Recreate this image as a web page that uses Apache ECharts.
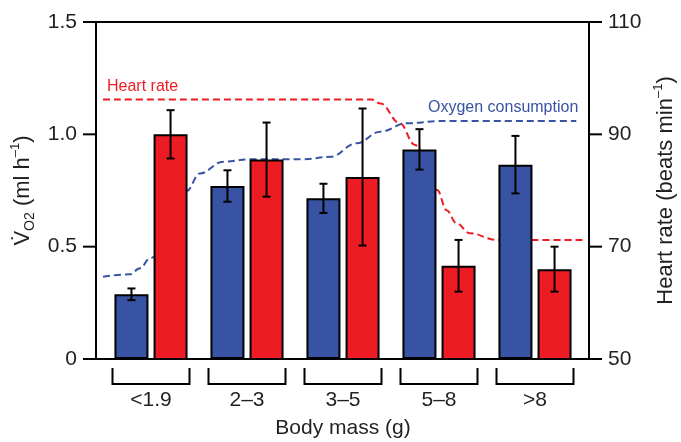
<!DOCTYPE html>
<html><head><meta charset="utf-8">
<script src="https://cdn.jsdelivr.net/npm/echarts@6/dist/echarts.min.js"></script>
<style>html,body{margin:0;padding:0;background:#fff}#c{width:681px;height:442px}</style>
</head><body><div id="c"></div>
<script>
// ---- data ----
const categories = ['<1.9', '2–3', '3–5', '5–8', '>8'];
const o2Values = [0.288, 0.770, 0.715, 0.933, 0.865];
const o2Errors = [0.026, 0.070, 0.065, 0.090, 0.128];
const hrValues = [90.0, 85.5, 82.4, 66.6, 66.0];
const hrErrors = [4.3, 6.6, 12.2, 4.6, 4.0];
const o2TickLabels = [0, 0.5, 1.0, 1.5];
const hrTickLabels = [50, 70, 90, 110];
// schematic curves: [position along mass classes (0..5), value]
const hrCurve = [[0, 96.2], [2.80, 96.2], [2.89, 95.5], [3.09, 92.0], [3.25, 88.1], [3.48, 80.1],
  [3.58, 76.5], [3.68, 74.2], [3.82, 72.4], [4.10, 71.2], [5.0, 71.2]];
const o2Curve = [[0, 0.366], [0.28, 0.377], [0.385, 0.404], [0.49, 0.448], [0.87, 0.748], [1.01, 0.826],
  [1.25, 0.878], [1.53, 0.889], [2.09, 0.889], [2.37, 0.900], [2.64, 0.960], [2.89, 1.012],
  [3.16, 1.049], [3.51, 1.059], [4.93, 1.059]];

// ---- style / layout ----
const FONT = "'Liberation Sans', Arial, sans-serif";
const TXT = '#231f20';
const BLUE = '#3953a4';
const RED = '#ed1c24';
const BAR_W = 34, GAP = 0.15;
const OFF = (BAR_W + BAR_W * GAP) / 2;
const FS = 21, TFS = 22, TICK = 13;
const W = 681, H = 442;
const FRAME = {left: 96, right: 92, top: 22, bottom: 83};

function errRender(offset) {
  return function (params, api) {
    const i = api.value(0), v = api.value(1), e = api.value(2);
    const t = api.coord([i, v + e]), b = api.coord([i, v - e]);
    const x = t[0] + offset;
    const st = {stroke: '#000', lineWidth: 2};
    return {type: 'group', children: [
      {type: 'line', shape: {x1: x, y1: t[1], x2: x, y2: b[1]}, style: st},
      {type: 'line', shape: {x1: x - 4, y1: t[1], x2: x + 4, y2: t[1]}, style: st},
      {type: 'line', shape: {x1: x - 4, y1: b[1], x2: x + 4, y2: b[1]}, style: st}
    ]};
  };
}

const legendTexts = [
  {type: 'text', left: 107, top: 79, style: {text: 'Heart rate', fill: RED, font: '16px ' + FONT}},
  {type: 'text', left: 428, top: 100, style: {text: 'Oxygen consumption', fill: BLUE, font: '16px ' + FONT}}
];

const chart = echarts.init(document.getElementById('c'), null, {renderer: 'canvas'});
chart.setOption({
  animation: false,
  textStyle: {fontFamily: FONT},
  grid: [
    {left: 103, right: 98, top: FRAME.top, bottom: FRAME.bottom, containLabel: false, outerBoundsMode: 'none'},
    {left: FRAME.left, right: FRAME.right, top: FRAME.top, bottom: FRAME.bottom, containLabel: false,
      outerBoundsMode: 'none', show: true, borderColor: '#000', borderWidth: 2, backgroundColor: 'transparent'}
  ],
  xAxis: [
    {gridIndex: 0, type: 'category', data: categories,
      axisLine: {show: false}, axisTick: {show: false}, splitLine: {show: false},
      axisLabel: {margin: 31, fontSize: FS, color: TXT, fontFamily: FONT},
      name: 'Body mass (g)', nameLocation: 'middle', nameGap: 59,
      nameTextStyle: {fontSize: FS, color: TXT, fontFamily: FONT}},
    {gridIndex: 0, type: 'value', min: 0, max: 5, show: false},
    {gridIndex: 1, type: 'value', min: 0, max: 1, show: false}
  ],
  yAxis: [
    {gridIndex: 0, type: 'value', min: o2TickLabels[0], max: o2TickLabels[3], show: false},
    {gridIndex: 0, type: 'value', min: hrTickLabels[0], max: hrTickLabels[3], show: false},
    {gridIndex: 1, type: 'value', min: o2TickLabels[0], max: o2TickLabels[3], interval: 0.5, position: 'left',
      axisLine: {show: false}, axisTick: {show: false},
      axisLabel: {show: true, fontSize: FS, color: TXT, margin: 19, fontFamily: FONT,
        formatter: v => v === 0 ? '0' : v.toFixed(1)},
      splitLine: {show: false},
      name: '{n|V\u0307}{s|O2}{n| (ml h}{p|\u20131}{n|)}', nameLocation: 'middle', nameRotate: 90, nameGap: 55,
      nameTextStyle: {rich: {
        n: {fontSize: TFS, lineHeight: 28, color: TXT, fontFamily: FONT},
        s: {fontSize: 14, lineHeight: 15, verticalAlign: 'bottom', color: TXT, fontFamily: FONT},
        p: {fontSize: 13, lineHeight: 15, verticalAlign: 'top', color: TXT, fontFamily: FONT}
      }}},
    {gridIndex: 1, type: 'value', min: hrTickLabels[0], max: hrTickLabels[3], interval: 20, position: 'right',
      axisLine: {show: false}, axisTick: {show: false},
      axisLabel: {show: true, fontSize: FS, color: TXT, margin: 19, fontFamily: FONT},
      splitLine: {show: false},
      name: '{n|Heart rate (beats min}{p|\u20131}{n|)}', nameLocation: 'middle', nameRotate: 90, nameGap: 57,
      nameTextStyle: {rich: {
        n: {fontSize: TFS, lineHeight: 28, color: TXT, fontFamily: FONT},
        p: {fontSize: 13, lineHeight: 15, verticalAlign: 'top', color: TXT, fontFamily: FONT}
      }}}
  ],
  graphic: legendTexts,
  series: [
    {type: 'line', xAxisIndex: 1, yAxisIndex: 1, data: hrCurve, smooth: 0.4, smoothMonotone: 'x',
      symbol: 'none', clip: false, z: 1, lineStyle: {color: RED, width: 2, type: [7, 4]}},
    {type: 'line', xAxisIndex: 1, yAxisIndex: 0, data: o2Curve, smooth: 0.4, smoothMonotone: 'x',
      symbol: 'none', clip: false, z: 1, lineStyle: {color: BLUE, width: 2, type: [7, 4]}},
    {type: 'bar', xAxisIndex: 0, yAxisIndex: 0, data: o2Values, barWidth: BAR_W, barGap: (GAP * 100) + '%',
      z: 2, itemStyle: {color: BLUE, borderColor: '#000', borderWidth: 2}},
    {type: 'bar', xAxisIndex: 0, yAxisIndex: 1, data: hrValues, barWidth: BAR_W, barGap: (GAP * 100) + '%',
      z: 2, clip: true, itemStyle: {color: RED, borderColor: '#000', borderWidth: 2}},
    {type: 'custom', xAxisIndex: 0, yAxisIndex: 0, z: 3, renderItem: errRender(-OFF),
      data: o2Values.map((v, i) => [i, v, o2Errors[i]]), encode: {x: 0, y: 1}},
    {type: 'custom', xAxisIndex: 0, yAxisIndex: 1, z: 3, renderItem: errRender(OFF),
      data: hrValues.map((v, i) => [i, v, hrErrors[i]]), encode: {x: 0, y: 1}},
    {type: 'custom', xAxisIndex: 0, yAxisIndex: 0, z: 3, clip: false,
      data: categories.map((c, i) => [i, 0]), encode: {x: 0, y: 1},
      renderItem: function (params, api) {
        const p = api.coord([api.value(0), api.value(1)]);
        const h = 38.5;
        return {type: 'polyline', shape: {points: [[p[0] - h, p[1] + 9], [p[0] - h, p[1] + 25],
          [p[0] + h, p[1] + 25], [p[0] + h, p[1] + 9]]}, style: {stroke: '#000', lineWidth: 2, fill: null}};
      }}
  ]
});

// ---- axis tick marks (through the frame grid's scales, with a layout fallback) ----
function px(finder, v, fallback) {
  let r;
  try { r = chart.convertToPixel(finder, v); } catch (e) { r = NaN; }
  if (Array.isArray(r)) r = r[0];
  return (typeof r === 'number' && isFinite(r)) ? r : fallback;
}
const plotH = H - FRAME.top - FRAME.bottom;
const yFallback = (v, lo, hi) => FRAME.top + plotH * (1 - (v - lo) / (hi - lo));
const xl = px({xAxisIndex: 2}, 0, FRAME.left);
const xr = px({xAxisIndex: 2}, 1, W - FRAME.right);
const tickEls = [];
o2TickLabels.forEach(v => {
  const y = px({yAxisIndex: 2}, v, yFallback(v, o2TickLabels[0], o2TickLabels[3]));
  tickEls.push({type: 'rect', z: 100, silent: true,
    shape: {x: xl - TICK, y: y - 1, width: TICK, height: 2}, style: {fill: '#000'}});
});
hrTickLabels.forEach(v => {
  const y = px({yAxisIndex: 3}, v, yFallback(v, hrTickLabels[0], hrTickLabels[3]));
  tickEls.push({type: 'rect', z: 100, silent: true,
    shape: {x: xr, y: y - 1, width: TICK, height: 2}, style: {fill: '#000'}});
});
chart.setOption({graphic: legendTexts.concat(tickEls)}, {replaceMerge: ['graphic']});
</script></body></html>
